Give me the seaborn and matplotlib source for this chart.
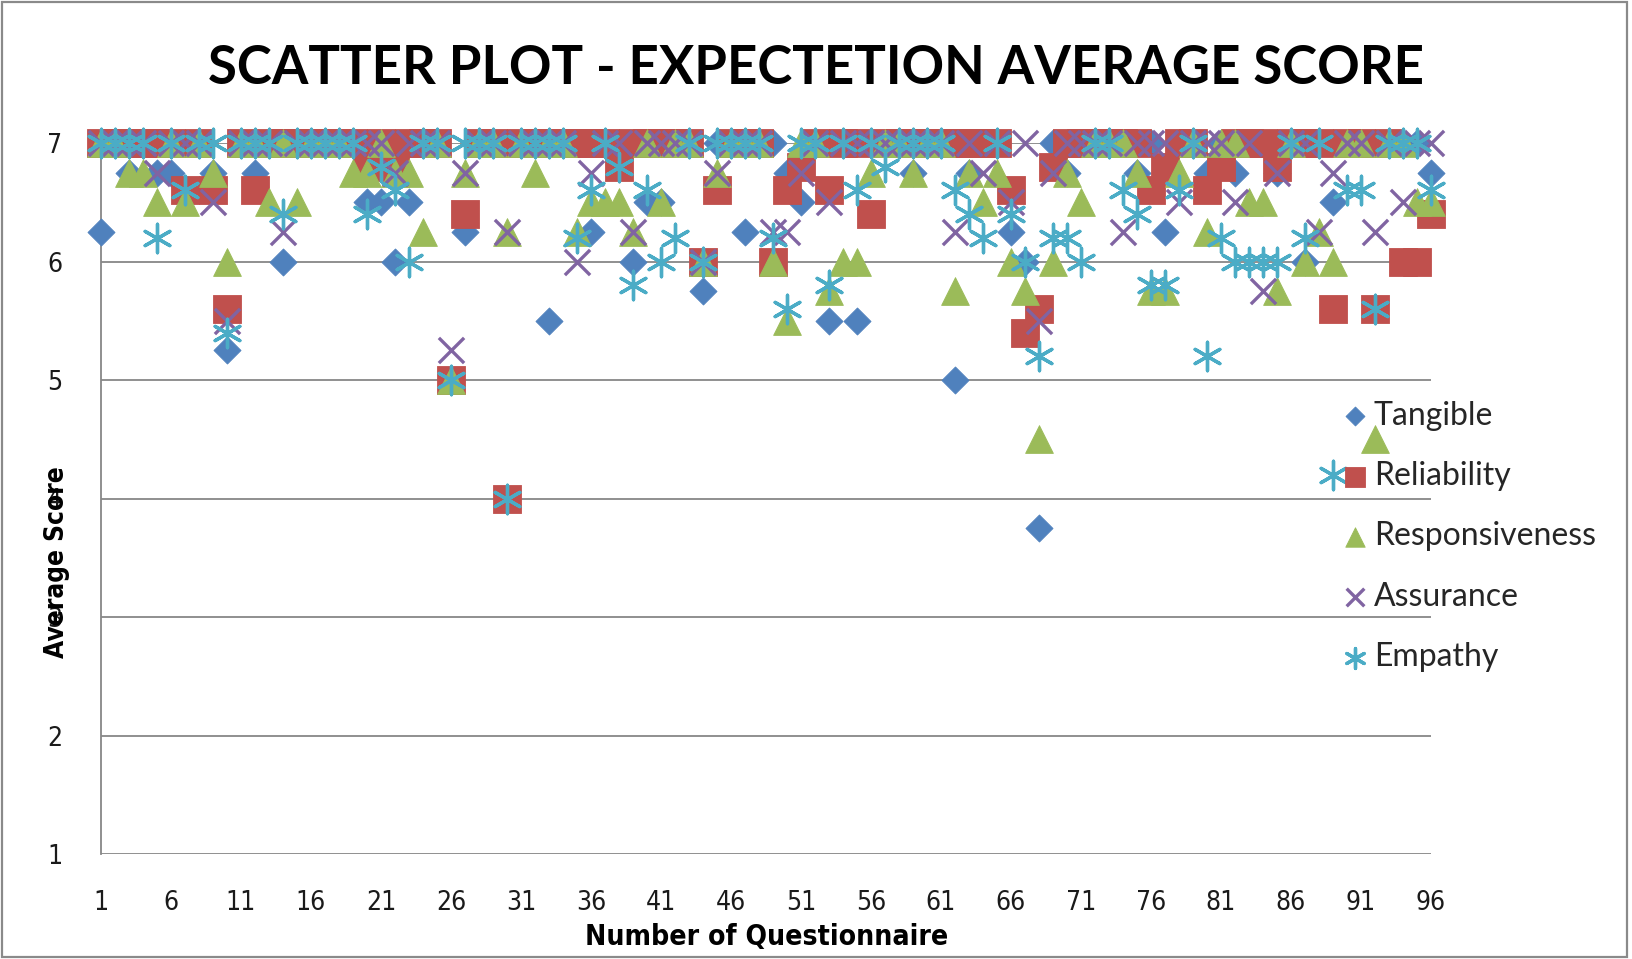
import matplotlib
matplotlib.use("Agg")
import matplotlib.pyplot as plt
import seaborn as sns
import pandas as pd
from matplotlib import font_manager
from matplotlib.patches import Rectangle

# ---------------- data ----------------
questionnaire = list(range(1, 97))
x_ticks = list(range(1, 97, 5))
y_ticks = [1, 2, 3, 4, 5, 6, 7]

tangible = [
    6.25, 7, 6.75, 7, 6.75, 6.75, 7, 7, 6.75, 5.25,
    7, 6.75, 7, 6.0, 7, 7, 7, 7, 7, 6.5,
    6.5, 6.0, 6.5, 7, 7, 5.0, 6.25, 7, 7, 4.0,
    7, 7, 5.5, 7, 7, 6.25, 7, 7, 6.0, 6.5,
    6.5, 7, 7, 5.75, 7, 7, 6.25, 7, 7, 6.75,
    6.5, 7, 5.5, 7, 5.5, 7, 7, 7, 6.75, 7,
    7, 5.0, 6.75, 7, 7, 6.25, 6.0, 3.75, 7, 6.75,
    7, 7, 7, 7, 6.75, 7, 6.25, 7, 7, 6.75,
    7, 6.75, 7, 7, 6.75, 7, 6.0, 7, 6.5, 7,
    7, 7, 7, 7, 7, 6.75,
]
reliability = [
    7, 7, 7, 7, 7, 7, 6.6, 7, 6.6, 5.6,
    7, 6.6, 7, 7, 7, 7, 7, 7, 7, 6.8,
    7, 6.8, 7, 7, 7, 5.0, 6.4, 7, 7, 4.0,
    7, 7, 7, 7, 7, 7, 7, 6.8, 7, 7,
    7, 7, 7, 6.0, 6.6, 7, 7, 7, 6.0, 6.6,
    6.8, 7, 6.6, 7, 7, 6.4, 7, 7, 7, 7,
    7, 7, 7, 7, 7, 6.6, 5.4, 5.6, 6.8, 7,
    7, 7, 7, 7, 7, 6.6, 6.8, 7, 7, 6.6,
    6.8, 7, 7, 7, 6.8, 7, 7, 7, 5.6, 7,
    7, 5.6, 7, 6.0, 6.0, 6.4,
]
responsiveness = [
    7, 7, 6.75, 6.75, 6.5, 7, 6.5, 7, 6.75, 6.0,
    7, 7, 6.5, 7, 6.5, 7, 7, 7, 6.75, 6.75,
    7, 6.75, 6.75, 6.25, 7, 5.0, 6.75, 7, 7, 6.25,
    7, 6.75, 7, 7, 6.25, 6.5, 6.5, 6.5, 6.25, 7,
    6.5, 7, 7, 6.0, 6.75, 7, 7, 7, 6.0, 5.5,
    7, 7, 5.75, 6.0, 6.0, 6.75, 7, 7, 6.75, 7,
    7, 5.75, 6.75, 6.5, 6.75, 6.0, 5.75, 4.5, 6.0, 6.75,
    6.5, 7, 7, 7, 6.75, 5.75, 5.75, 6.75, 7, 6.25,
    7, 7, 6.5, 6.5, 5.75, 7, 6.0, 6.25, 6.0, 7,
    7, 4.5, 7, 7, 6.5, 6.5,
]
assurance = [
    7, 7, 7, 7, 6.75, 7, 7, 7, 6.5, 5.5,
    7, 7, 7, 6.25, 7, 7, 7, 7, 7, 7,
    7, 6.75, 7, 7, 7, 5.25, 6.75, 7, 7, 6.25,
    7, 7, 7, 7, 6.0, 6.75, 7, 7, 6.25, 7,
    7, 7, 7, 6.0, 6.75, 7, 7, 7, 6.25, 6.25,
    6.75, 7, 6.5, 7, 7, 7, 7, 7, 7, 7,
    7, 6.25, 7, 6.75, 7, 6.5, 7, 5.5, 6.75, 7,
    7, 7, 7, 6.25, 7, 7, 7, 6.5, 7, 7,
    7, 6.5, 7, 5.75, 6.75, 7, 7, 6.25, 6.75, 7,
    7, 6.25, 7, 6.5, 7, 7,
]
empathy = [
    7, 7, 7, 7, 6.2, 7, 6.6, 7, 7, 5.4,
    7, 7, 7, 6.4, 7, 7, 7, 7, 7, 6.4,
    6.8, 6.6, 6.0, 7, 7, 5.0, 7, 7, 7, 4.0,
    7, 7, 7, 7, 6.2, 6.6, 7, 6.8, 5.8, 6.6,
    6.0, 6.2, 7, 6.0, 7, 7, 7, 7, 6.2, 5.6,
    7, 7, 5.8, 7, 6.6, 7, 6.8, 7, 7, 7,
    7, 6.6, 6.4, 6.2, 7, 6.4, 6.0, 5.2, 6.2, 6.2,
    6.0, 7, 7, 6.6, 6.4, 5.8, 5.8, 6.6, 7, 5.2,
    6.2, 6.0, 6.0, 6.0, 6.0, 7, 6.2, 7, 4.2, 6.6,
    6.6, 5.6, 7, 7, 7, 6.6,
]

series_names = ["Tangible", "Reliability", "Responsiveness", "Assurance", "Empathy"]
series_values = [tangible, reliability, responsiveness, assurance, empathy]

# ---------------- styles ----------------
colors = ["#4F81BD", "#C0504D", "#9BBB59", "#8064A2", "#4BACC6"]
markers = ["D", "s", "^", "x", (6, 2, 0)]
sizes = [190, 400, 400, 330, 420]
lws = [0.6, 0.6, 0.6, 2.4, 2.4]

available = {f.name for f in font_manager.fontManager.ttflist}
narrow = "Liberation Sans Narrow" if "Liberation Sans Narrow" in available else "DejaVu Sans"
lato = "Lato" if "Lato" in available else "DejaVu Sans"

sns.set_theme(style="white")
plt.rcParams["font.family"] = [lato, "DejaVu Sans"]

W, H = 1633, 959
fig = plt.figure(figsize=(W / 100, H / 100), dpi=100)
fig.patch.set_facecolor("white")
ax = fig.add_axes([101 / W, 1 - 854 / H, 1330 / W, 711 / H])

for name, vals, col, mk, s, lw in zip(series_names, series_values, colors, markers, sizes, lws):
    df = pd.DataFrame({"Number of Questionnaire": questionnaire, "Average Score": vals})
    filled = mk in ("D", "s", "^")
    kw = dict(x="Number of Questionnaire", y="Average Score", data=df, ax=ax,
              marker=mk, s=s, color=col, linewidth=lw, label=name, clip_on=False, zorder=3)
    if filled:
        kw["edgecolor"] = col
    sns.scatterplot(**kw)

ax.set_xlim(1, 96)
ax.set_ylim(1, 7)
ax.set_xticks(x_ticks)
ax.set_yticks(y_ticks)
for y in y_ticks:
    ax.axhline(y, color="#878787", lw=1.3, zorder=1)
for sp in ["top", "right", "bottom"]:
    ax.spines[sp].set_visible(False)
ax.spines["left"].set_color("#878787")
ax.spines["left"].set_linewidth(1.3)
ax.spines["left"].set_zorder(1)
ax.tick_params(axis="both", length=0)
ax.tick_params(axis="x", pad=26)
ax.tick_params(axis="y", pad=28)
for lab in ax.get_xticklabels() + ax.get_yticklabels():
    lab.set_fontfamily(narrow)
    lab.set_fontstretch("condensed")
    lab.set_fontsize(19)
    lab.set_color("#1a1a1a")
ax.set_xlabel("")
ax.set_ylabel("")

fig.canvas.draw()
renderer = fig.canvas.get_renderer()

def fit(t, target_px, vertical=False):
    bb = t.get_window_extent(renderer)
    cur = bb.height if vertical else bb.width
    t.set_fontsize(t.get_fontsize() * target_px / cur)

title = fig.text(0.5, 1 - 69 / H, "SCATTER PLOT - EXPECTETION AVERAGE SCORE",
                 ha="center", va="center", fontsize=40, fontweight="bold",
                 family=[lato, "DejaVu Sans"], color="black")
fit(title, 1214)

xl = fig.text(767 / W, 1 - 937 / H, "Number of Questionnaire", ha="center", va="center",
              fontsize=20, fontweight="bold", fontstretch="condensed", family=narrow, color="black")
fit(xl, 363)
yl = fig.text(57 / W, 1 - 562 / H, "Average Score", ha="center", va="center",
              rotation=90, fontsize=20, fontweight="bold", fontstretch="condensed",
              family=narrow, color="black")
fit(yl, 192, vertical=True)

leg = ax.legend(loc="upper left", bbox_to_anchor=(1326 / W, 1 - 388 / H),
                bbox_transform=fig.transFigure, frameon=False, fontsize=23,
                labelspacing=0.95, handletextpad=0.1, markerscale=0.7,
                handlelength=1.0, borderaxespad=0)
for t in leg.get_texts():
    t.set_color("#262626")

fig.patches.append(Rectangle((2 / W, 2 / H), (W - 8) / W, (H - 4) / H,
                             transform=fig.transFigure, fill=False,
                             edgecolor="#8a8a8a", lw=1.6))

fig.savefig("out.png", dpi=100, facecolor="white")
